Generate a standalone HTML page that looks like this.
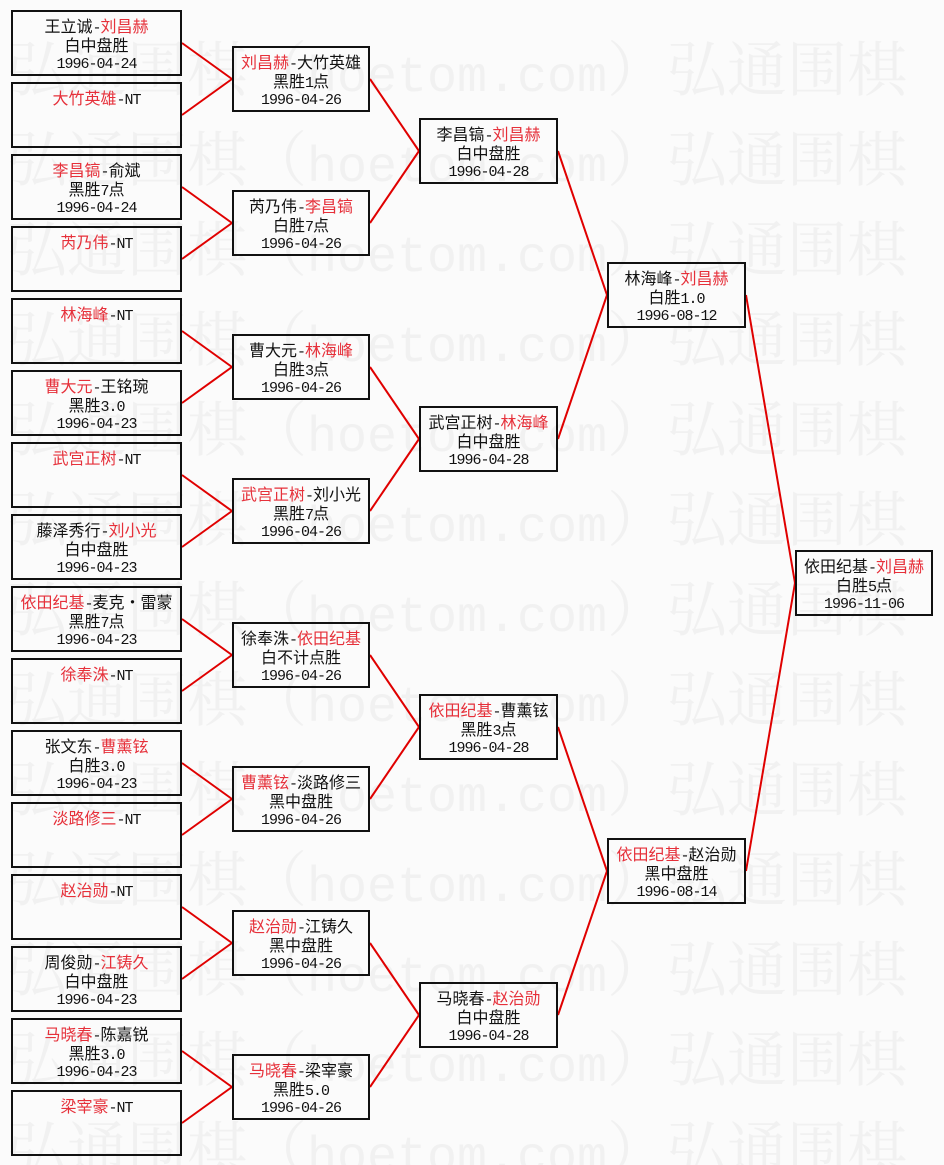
<!DOCTYPE html>
<html>
<head>
<meta charset="utf-8">
<style>
html,body{margin:0;padding:0;overflow:hidden}
html{width:944px;height:1165px}
body{width:944px;height:1165px;overflow:hidden;background:#fbfbfb;position:relative;font-family:"Liberation Sans","Noto Sans CJK SC",sans-serif}
.wm{position:absolute;left:7px;height:60px;line-height:60px;font-size:60px;color:#f1f1f1;white-space:nowrap;font-family:"Noto Serif CJK SC","Noto Sans CJK SC",serif;overflow:visible}
.wm span{font-family:"Liberation Mono",monospace;font-size:50px;line-height:60px}
svg{position:absolute;left:0;top:0}
.b{position:absolute;border:2px solid #111;box-sizing:border-box;text-align:center;padding-top:4px;font-size:16px;font-family:"Noto Sans CJK SC",sans-serif;color:#111;white-space:nowrap;overflow:hidden}
.b div{height:19px;line-height:19px}
.b div.d{position:relative;top:-2px}
.c1{left:11px;width:171px;height:66px}
.c2{left:232px;width:138px;height:66px}
.c3{left:419px;width:139px;height:66px}
.c4{left:607px;width:139px;height:66px}
.c5{left:795px;width:138px;height:66px}
.m{font-family:"Liberation Mono",monospace;font-size:15px;letter-spacing:-1px}
.r{color:#e6303a}
</style>
</head>
<body>
<div class="wm" style="top:36px">弘通围棋（<span>hoetom.com</span>）弘通围棋（<span>hoetom.com</span>）</div>
<div class="wm" style="top:126px">弘通围棋（<span>hoetom.com</span>）弘通围棋（<span>hoetom.com</span>）</div>
<div class="wm" style="top:216px">弘通围棋（<span>hoetom.com</span>）弘通围棋（<span>hoetom.com</span>）</div>
<div class="wm" style="top:306px">弘通围棋（<span>hoetom.com</span>）弘通围棋（<span>hoetom.com</span>）</div>
<div class="wm" style="top:396px">弘通围棋（<span>hoetom.com</span>）弘通围棋（<span>hoetom.com</span>）</div>
<div class="wm" style="top:486px">弘通围棋（<span>hoetom.com</span>）弘通围棋（<span>hoetom.com</span>）</div>
<div class="wm" style="top:576px">弘通围棋（<span>hoetom.com</span>）弘通围棋（<span>hoetom.com</span>）</div>
<div class="wm" style="top:666px">弘通围棋（<span>hoetom.com</span>）弘通围棋（<span>hoetom.com</span>）</div>
<div class="wm" style="top:756px">弘通围棋（<span>hoetom.com</span>）弘通围棋（<span>hoetom.com</span>）</div>
<div class="wm" style="top:846px">弘通围棋（<span>hoetom.com</span>）弘通围棋（<span>hoetom.com</span>）</div>
<div class="wm" style="top:936px">弘通围棋（<span>hoetom.com</span>）弘通围棋（<span>hoetom.com</span>）</div>
<div class="wm" style="top:1026px">弘通围棋（<span>hoetom.com</span>）弘通围棋（<span>hoetom.com</span>）</div>
<div class="wm" style="top:1116px;height:49px;overflow:hidden">弘通围棋（<span>hoetom.com</span>）弘通围棋（<span>hoetom.com</span>）</div>

<svg width="944" height="1165" viewBox="0 0 944 1165">
<g stroke="#e00000" stroke-width="2" fill="none">
<line x1="182" y1="43" x2="232" y2="79"/>
<line x1="182" y1="115" x2="232" y2="79"/>
<line x1="182" y1="187" x2="232" y2="223"/>
<line x1="182" y1="259" x2="232" y2="223"/>
<line x1="182" y1="331" x2="232" y2="367"/>
<line x1="182" y1="403" x2="232" y2="367"/>
<line x1="182" y1="475" x2="232" y2="511"/>
<line x1="182" y1="547" x2="232" y2="511"/>
<line x1="182" y1="619" x2="232" y2="655"/>
<line x1="182" y1="691" x2="232" y2="655"/>
<line x1="182" y1="763" x2="232" y2="799"/>
<line x1="182" y1="835" x2="232" y2="799"/>
<line x1="182" y1="907" x2="232" y2="943"/>
<line x1="182" y1="979" x2="232" y2="943"/>
<line x1="182" y1="1051" x2="232" y2="1087"/>
<line x1="182" y1="1123" x2="232" y2="1087"/>
<line x1="370" y1="79" x2="419" y2="151"/>
<line x1="370" y1="223" x2="419" y2="151"/>
<line x1="370" y1="367" x2="419" y2="439"/>
<line x1="370" y1="511" x2="419" y2="439"/>
<line x1="370" y1="655" x2="419" y2="727"/>
<line x1="370" y1="799" x2="419" y2="727"/>
<line x1="370" y1="943" x2="419" y2="1015"/>
<line x1="370" y1="1087" x2="419" y2="1015"/>
<line x1="558" y1="151" x2="607" y2="295"/>
<line x1="558" y1="439" x2="607" y2="295"/>
<line x1="558" y1="727" x2="607" y2="871"/>
<line x1="558" y1="1015" x2="607" y2="871"/>
<line x1="746" y1="295" x2="795" y2="583"/>
<line x1="746" y1="871" x2="795" y2="583"/>
</g>
</svg>

<!-- Column 1 -->
<div class="b c1" style="top:10px"><div>王立诚<span class="m">-</span><span class="r">刘昌赫</span></div><div>白中盘胜</div><div class="d"><span class="m">1996-04-24</span></div></div>
<div class="b c1" style="top:82px"><div><span class="r">大竹英雄</span><span class="m">-NT</span></div></div>
<div class="b c1" style="top:154px"><div><span class="r">李昌镐</span><span class="m">-</span>俞斌</div><div>黑胜<span class="m">7</span>点</div><div class="d"><span class="m">1996-04-24</span></div></div>
<div class="b c1" style="top:226px"><div><span class="r">芮乃伟</span><span class="m">-NT</span></div></div>
<div class="b c1" style="top:298px"><div><span class="r">林海峰</span><span class="m">-NT</span></div></div>
<div class="b c1" style="top:370px"><div><span class="r">曹大元</span><span class="m">-</span>王铭琬</div><div>黑胜<span class="m">3.0</span></div><div class="d"><span class="m">1996-04-23</span></div></div>
<div class="b c1" style="top:442px"><div><span class="r">武宫正树</span><span class="m">-NT</span></div></div>
<div class="b c1" style="top:514px"><div>藤泽秀行<span class="m">-</span><span class="r">刘小光</span></div><div>白中盘胜</div><div class="d"><span class="m">1996-04-23</span></div></div>
<div class="b c1" style="top:586px"><div><span class="r">依田纪基</span><span class="m">-</span>麦克・雷蒙</div><div>黑胜<span class="m">7</span>点</div><div class="d"><span class="m">1996-04-23</span></div></div>
<div class="b c1" style="top:658px"><div><span class="r">徐奉洙</span><span class="m">-NT</span></div></div>
<div class="b c1" style="top:730px"><div>张文东<span class="m">-</span><span class="r">曹薰铉</span></div><div>白胜<span class="m">3.0</span></div><div class="d"><span class="m">1996-04-23</span></div></div>
<div class="b c1" style="top:802px"><div><span class="r">淡路修三</span><span class="m">-NT</span></div></div>
<div class="b c1" style="top:874px"><div><span class="r">赵治勋</span><span class="m">-NT</span></div></div>
<div class="b c1" style="top:946px"><div>周俊勋<span class="m">-</span><span class="r">江铸久</span></div><div>白中盘胜</div><div class="d"><span class="m">1996-04-23</span></div></div>
<div class="b c1" style="top:1018px"><div><span class="r">马晓春</span><span class="m">-</span>陈嘉锐</div><div>黑胜<span class="m">3.0</span></div><div class="d"><span class="m">1996-04-23</span></div></div>
<div class="b c1" style="top:1090px"><div><span class="r">梁宰豪</span><span class="m">-NT</span></div></div>

<!-- Column 2 -->
<div class="b c2" style="top:46px"><div><span class="r">刘昌赫</span><span class="m">-</span>大竹英雄</div><div>黑胜<span class="m">1</span>点</div><div class="d"><span class="m">1996-04-26</span></div></div>
<div class="b c2" style="top:190px"><div>芮乃伟<span class="m">-</span><span class="r">李昌镐</span></div><div>白胜<span class="m">7</span>点</div><div class="d"><span class="m">1996-04-26</span></div></div>
<div class="b c2" style="top:334px"><div>曹大元<span class="m">-</span><span class="r">林海峰</span></div><div>白胜<span class="m">3</span>点</div><div class="d"><span class="m">1996-04-26</span></div></div>
<div class="b c2" style="top:478px"><div><span class="r">武宫正树</span><span class="m">-</span>刘小光</div><div>黑胜<span class="m">7</span>点</div><div class="d"><span class="m">1996-04-26</span></div></div>
<div class="b c2" style="top:622px"><div>徐奉洙<span class="m">-</span><span class="r">依田纪基</span></div><div>白不计点胜</div><div class="d"><span class="m">1996-04-26</span></div></div>
<div class="b c2" style="top:766px"><div><span class="r">曹薰铉</span><span class="m">-</span>淡路修三</div><div>黑中盘胜</div><div class="d"><span class="m">1996-04-26</span></div></div>
<div class="b c2" style="top:910px"><div><span class="r">赵治勋</span><span class="m">-</span>江铸久</div><div>黑中盘胜</div><div class="d"><span class="m">1996-04-26</span></div></div>
<div class="b c2" style="top:1054px"><div><span class="r">马晓春</span><span class="m">-</span>梁宰豪</div><div>黑胜<span class="m">5.0</span></div><div class="d"><span class="m">1996-04-26</span></div></div>

<!-- Column 3 -->
<div class="b c3" style="top:118px"><div>李昌镐<span class="m">-</span><span class="r">刘昌赫</span></div><div>白中盘胜</div><div class="d"><span class="m">1996-04-28</span></div></div>
<div class="b c3" style="top:406px"><div>武宫正树<span class="m">-</span><span class="r">林海峰</span></div><div>白中盘胜</div><div class="d"><span class="m">1996-04-28</span></div></div>
<div class="b c3" style="top:694px"><div><span class="r">依田纪基</span><span class="m">-</span>曹薰铉</div><div>黑胜<span class="m">3</span>点</div><div class="d"><span class="m">1996-04-28</span></div></div>
<div class="b c3" style="top:982px"><div>马晓春<span class="m">-</span><span class="r">赵治勋</span></div><div>白中盘胜</div><div class="d"><span class="m">1996-04-28</span></div></div>

<!-- Column 4 -->
<div class="b c4" style="top:262px"><div>林海峰<span class="m">-</span><span class="r">刘昌赫</span></div><div>白胜<span class="m">1.0</span></div><div class="d"><span class="m">1996-08-12</span></div></div>
<div class="b c4" style="top:838px"><div><span class="r">依田纪基</span><span class="m">-</span>赵治勋</div><div>黑中盘胜</div><div class="d"><span class="m">1996-08-14</span></div></div>

<!-- Column 5 -->
<div class="b c5" style="top:550px"><div>依田纪基<span class="m">-</span><span class="r">刘昌赫</span></div><div>白胜<span class="m">5</span>点</div><div class="d"><span class="m">1996-11-06</span></div></div>
</body>
</html>
